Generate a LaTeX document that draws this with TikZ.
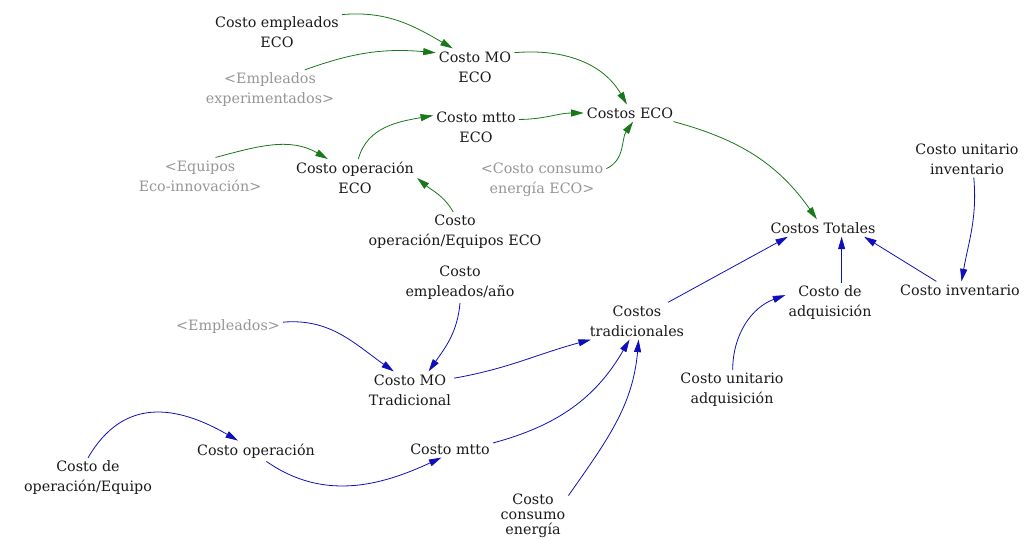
\documentclass[tikz,border=0pt]{standalone}
\usepackage{fontspec}
\setmainfont{DejaVu Serif}
\usetikzlibrary{arrows.meta}
\definecolor{ecogreen}{RGB}{25,120,25}
\definecolor{tradblue}{RGB}{15,15,185}
\definecolor{shadowvar}{RGB}{150,150,150}
\begin{document}
\begin{tikzpicture}[x=1pt,y=1pt,
  var/.style={align=center,inner sep=3pt,font=\fontsize{14.3}{20}\selectfont,text=black!90},
  ghost/.style={var,text=shadowvar},
  eco/.style={draw=ecogreen,line width=0.8pt,-{Triangle[length=12.5pt,width=7pt,fill=ecogreen]}},
  trad/.style={draw=tradblue,line width=0.8pt,-{Triangle[length=12.5pt,width=7pt,fill=tradblue]}}]
\fill[white] (0,-538) rectangle (1027,0);
\useasboundingbox (0,-538) rectangle (1027,0);

% ECO branch
\node[var] (ce) at (277,-32) {Costo empleados\\ECO};
\node[var] (cmoe) at (475,-67) {Costo MO\\ECO};
\node[ghost] (ee) at (270,-90) {<Empleados\\experimentados>};
\node[var] (cmtoe) at (476,-127) {Costo mtto\\ECO};
\node[var] (ceco) at (630,-113) {Costos ECO};
\node[ghost] (eq) at (200,-176) {<Equipos\\Eco-innovación>};
\node[var] (coe) at (355,-178) {Costo operación\\ECO};
\node[ghost] (cce) at (542,-180) {<Costo consumo\\energía ECO>};
\node[var] (coeq) at (455,-232) {Costo\\operación/Equipos ECO};

% totals and traditional branch
\node[var] (cui) at (967,-159) {Costo unitario\\inventario};
\node[var] (ct) at (823,-228) {Costos Totales};
\node[var] (cea) at (460,-283) {Costo\\empleados/año};
\node[var] (ctr) at (637,-321) {Costos\\tradicionales};
\node[var] (cda) at (830,-303) {Costo de\\adquisición};
\node[var] (cinv) at (960,-290) {Costo inventario};
\node[ghost] (emp) at (228,-327) {<Empleados>};
\node[var] (cmot) at (410,-390) {Costo MO\\Tradicional};
\node[var] (cua) at (732,-390) {Costo unitario\\adquisición};
\node[var] (cop) at (256,-451) {Costo operación};
\node[var] (cmt) at (450,-449) {Costo mtto};
\node[var] (cde) at (88,-478) {Costo de\\operación/Equipo};
\node[var,font=\fontsize{14.3}{15}\selectfont] (ccen) at (533,-516) {Costo\\consumo\\energía};

% ECO links
\draw[eco] (ce.15) to[out=5,in=150] (cmoe.140);
\draw[eco] (ee.30) to[out=20,in=175] (cmoe.160);
\draw[eco] (cmoe.20) to[out=5,in=120] (ceco.110);
\draw[eco] (coe.80) to[out=75,in=190] (cmtoe.165);
\draw[eco] (cmtoe.10) to[out=0,in=180] (ceco.west);
\draw[eco] (cce.10) to[out=25,in=-125] (ceco.-70);
\draw[eco] (eq.50) to[out=15,in=150] (coe.145);
\draw[eco] (coeq.95) to[out=120,in=-40] (coe.0);
\draw[eco] ([xshift=25pt]ceco.-25) to[out=-15,in=125] (ct.125);

% traditional and total links
\draw[trad] (cui.-70) to[out=-85,in=80] (cinv.80);
\draw[trad] (cinv.160) -- (ct.-12);
\draw[trad] (cda.60) -- (cda.60 |- ct.south);
\draw[trad] (cua.88) to[out=90,in=200] (cda.170);
\draw[trad] (ctr.31) -- (ct.-166);
\draw[trad] (cea.-90) to[out=-95,in=55] (cmot.45);
\draw[trad] (emp.5) to[out=5,in=145] (cmot.131);
\draw[trad] (cmot.15) to[out=10,in=-165] (ctr.-158);
\draw[trad] (cmt.8) to[out=15,in=-120] (ctr.-112);
\draw[trad] (ccen.30) to[out=55,in=-95] (ctr.-85);
\draw[trad] (cde.north) to[out=60,in=150,looseness=1.2] (cop.150);
\draw[trad] (cop.-45) to[out=-35,in=-155] (cmt.-135);
\end{tikzpicture}
\end{document}
